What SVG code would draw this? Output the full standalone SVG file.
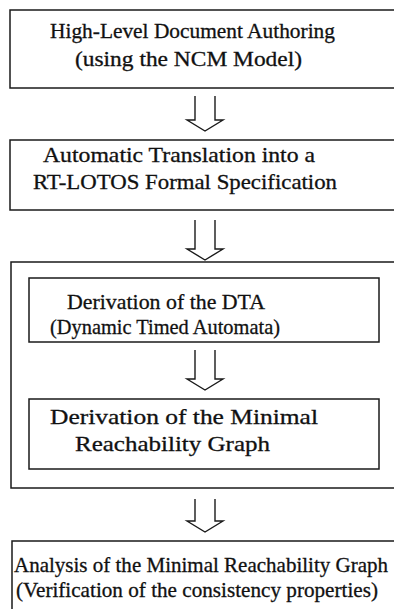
<svg xmlns="http://www.w3.org/2000/svg" width="394" height="609" viewBox="0 0 394 609">
<style>
.box{fill:none;stroke:#1a1a1a;stroke-width:1.5}
.t{font-family:"Liberation Serif","Times New Roman",serif;font-size:21px;fill:#111;stroke:#111;stroke-width:0.3}
.arr{fill:none;stroke:#1a1a1a;stroke-width:1.4;stroke-linejoin:miter}
</style>
<rect width="394" height="609" fill="#fff"/>
<g id="n1">
<rect class="box" x="10" y="10" width="400" height="78"/>
<text class="t" x="50" y="38" textLength="285" lengthAdjust="spacingAndGlyphs">High-Level Document Authoring</text>
<text class="t" x="75" y="66" textLength="227" lengthAdjust="spacingAndGlyphs">(using the NCM Model)</text>
</g>
<g id="n2">
<rect class="box" x="10" y="140" width="400" height="70"/>
<text class="t" x="43" y="162" textLength="272" lengthAdjust="spacingAndGlyphs">Automatic Translation into a</text>
<text class="t" x="33" y="189" textLength="304" lengthAdjust="spacingAndGlyphs">RT-LOTOS Formal Specification</text>
</g>
<g id="n3">
<rect class="box" x="11" y="262" width="400" height="226"/>
</g>
<g id="n3a">
<rect class="box" x="29" y="278" width="350" height="64"/>
<text class="t" x="67" y="309" textLength="198" lengthAdjust="spacingAndGlyphs">Derivation of the DTA</text>
<text class="t" x="50" y="334" textLength="230" lengthAdjust="spacingAndGlyphs">(Dynamic Timed Automata)</text>
</g>
<g id="n3b">
<rect class="box" x="29" y="399" width="350" height="70"/>
<text class="t" x="50" y="424" textLength="268" lengthAdjust="spacingAndGlyphs">Derivation of the Minimal</text>
<text class="t" x="75" y="451" textLength="195" lengthAdjust="spacingAndGlyphs">Reachability Graph</text>
</g>
<g id="n4">
<rect class="box" x="12" y="541" width="400" height="80"/>
<text class="t" x="14" y="572" textLength="374" lengthAdjust="spacingAndGlyphs">Analysis of the Minimal Reachability Graph</text>
<text class="t" x="16" y="597" textLength="362" lengthAdjust="spacingAndGlyphs">(Verification of the consistency properties)</text>
</g>
<g id="connectors">
<polyline class="arr" points="195,96 195,120 187,120 205,131 223,120 215,120 215,96"/>
<polyline class="arr" points="195,220 195,249 187,249 205,260 223,249 215,249 215,220"/>
<polyline class="arr" points="195,350 195,379 187,379 205,390 223,379 215,379 215,350"/>
<polyline class="arr" points="195,499 195,521 187,521 205,532 223,521 215,521 215,499"/>
</g>
</svg>
